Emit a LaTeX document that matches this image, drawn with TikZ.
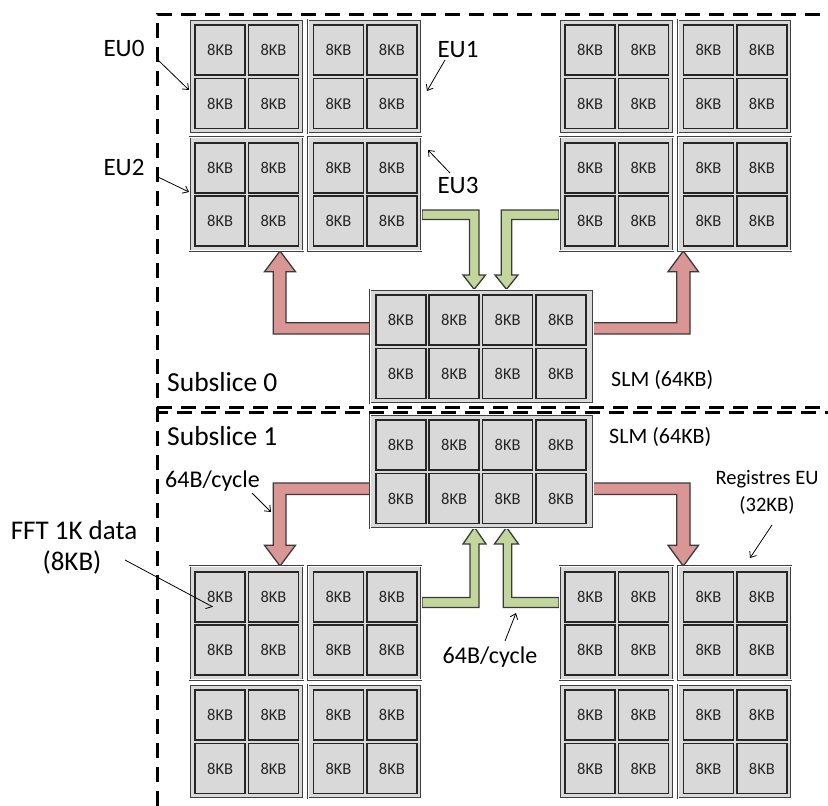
\documentclass[tikz,border=0pt]{standalone}
\usepackage{fontspec}
\setmainfont{Carlito}
\usetikzlibrary{arrows.meta}
\definecolor{cellfill}{HTML}{D9D9D9}
\definecolor{celldraw}{HTML}{262626}
\definecolor{boxdraw}{HTML}{404040}
\definecolor{redfill}{HTML}{D99694}
\definecolor{greenfill}{HTML}{C3D69B}
\definecolor{arrowdraw}{HTML}{3A3A3A}
\newcommand\membox[5]{%
  \node[outerbox, minimum width=#5pt, anchor=north west] (#1) at (#2,#3) {};
  \foreach \r in {0,1}{\foreach \c in {1,...,#4}{%
    \node[cellbox, anchor=north west] (#1-\r-\c) at ({#2+5+(\c-1)*53.4},{#3+5+\r*53.4}) {8KB};
  }}%
}
\begin{document}
\begin{tikzpicture}[x=1pt,y=-1pt,
  outerbox/.style={draw=boxdraw, line width=0.6pt, double=white, double distance=0.7pt, fill=cellfill, inner sep=0pt, minimum height=113.4pt},
  cellbox/.style={draw=celldraw, line width=1.6pt, fill=cellfill, inner sep=0pt, minimum width=50pt, minimum height=50pt, font=\fontsize{16.5}{19}\selectfont, text=celldraw},
  redarrow/.style={draw=arrowdraw, line width=1.3pt, fill=redfill, line join=miter},
  greenarrow/.style={draw=arrowdraw, line width=1.3pt, fill=greenfill, line join=miter},
  border/.style={draw=black, line width=3pt, dash pattern=on 15pt off 9pt},
  lbl/.style={inner sep=0pt, text=black},
  pointer/.style={draw=black, line width=0.8pt, -{Straight Barb[length=5pt,width=8pt]}},
]
\useasboundingbox (0,0) rectangle (828,806);
% subslice borders
\draw[border] (157,806) -- (157,14) -- (828,14);
\draw[border] (157,407) -- (828,407);
\draw[border, dash phase=4pt] (157,412) -- (828,412);
% block arrows, subslice 0
\filldraw[greenarrow] (422,210) -- (479,210) -- (479,275) -- (485.5,275) -- (474.2,289.3) -- (463,275) -- (469.5,275) -- (469.5,219.5) -- (422,219.5) -- cycle;
\filldraw[greenarrow] (559,210) -- (501.3,210) -- (501.3,275) -- (495,275) -- (506.5,289.3) -- (518,275) -- (511.7,275) -- (511.7,219.5) -- (559,219.5) -- cycle;
\filldraw[redarrow] (370,322.7) -- (286,322.7) -- (286,271.7) -- (295.5,271.7) -- (280,251) -- (264.5,271.7) -- (273.3,271.7) -- (273.3,334) -- (370,334) -- cycle;
\filldraw[redarrow] (593,322.7) -- (676.7,322.7) -- (676.7,271.7) -- (668,271.7) -- (683.3,251) -- (698.5,271.7) -- (690,271.7) -- (690,334) -- (593,334) -- cycle;
% block arrows, subslice 1
\filldraw[greenarrow] (422,607.5) -- (479,607.5) -- (479,544) -- (486,544) -- (474.5,527.3) -- (463,544) -- (470,544) -- (470,597.5) -- (422,597.5) -- cycle;
\filldraw[greenarrow] (559,607.5) -- (503.3,607.5) -- (503.3,544) -- (494.5,544) -- (506.5,527.3) -- (518.5,544) -- (511.7,544) -- (511.7,597.5) -- (559,597.5) -- cycle;
\filldraw[redarrow] (370,483) -- (273.3,483) -- (273.3,545.3) -- (264.5,545.3) -- (280,566) -- (295.5,545.3) -- (286,545.3) -- (286,494.5) -- (370,494.5) -- cycle;
\filldraw[redarrow] (593,483) -- (690,483) -- (690,545.3) -- (698.5,545.3) -- (683.3,566) -- (668,545.3) -- (676.7,545.3) -- (676.7,494.5) -- (593,494.5) -- cycle;
% EU boxes, subslice 0
\membox{eua}{189.3}{19.3}{2}{113.4}
\membox{eub}{307.7}{19.3}{2}{113.4}
\membox{euc}{189.3}{137}{2}{113.4}
\membox{eud}{307.7}{137}{2}{113.4}
\membox{eue}{559.3}{19.3}{2}{113.4}
\membox{euf}{677.7}{19.3}{2}{113.4}
\membox{eug}{559.3}{137}{2}{113.4}
\membox{euh}{677.7}{137}{2}{113.4}
\membox{slma}{370}{289.3}{4}{222.6}
% EU boxes, subslice 1
\membox{slmb}{370}{414.3}{4}{222.6}
\membox{eui}{189.3}{566}{2}{113.4}
\membox{euj}{307.7}{566}{2}{113.4}
\membox{euk}{189.3}{684.3}{2}{113.4}
\membox{eul}{307.7}{684.3}{2}{113.4}
\membox{eum}{559.3}{566}{2}{113.4}
\membox{eun}{677.7}{566}{2}{113.4}
\membox{euo}{559.3}{684.3}{2}{113.4}
\membox{eup}{677.7}{684.3}{2}{113.4}
% labels
\node[lbl, font=\fontsize{25}{30}\selectfont] (leu0) at (124,48) {EU0};
\node[lbl, font=\fontsize{25}{30}\selectfont] (leu2) at (124,167) {EU2};
\node[lbl, font=\fontsize{25}{30}\selectfont] (leu1) at (458,50) {EU1};
\node[lbl, font=\fontsize{25}{30}\selectfont] (leu3) at (458,185) {EU3};
\node[lbl, font=\fontsize{27.5}{32}\selectfont, anchor=west] (lss0) at (167,382) {Subslice 0};
\node[lbl, font=\fontsize{27.5}{32}\selectfont, anchor=west] (lss1) at (167,436) {Subslice 1};
\node[lbl, font=\fontsize{22}{26}\selectfont, anchor=west] (lslma) at (611,380) {SLM (64KB)};
\node[lbl, font=\fontsize{22}{26}\selectfont, anchor=west] (lslmb) at (609,437) {SLM (64KB)};
\node[lbl, font=\fontsize{24}{28}\selectfont, anchor=west] (lbwa) at (165,481) {64B/cycle};
\node[lbl, font=\fontsize{24}{28}\selectfont] (lbwb) at (490,657) {64B/cycle};
\node[lbl, font=\fontsize{20.5}{24}\selectfont] (lreg) at (767,479) {Registres EU};
\node[lbl, font=\fontsize{20.5}{24}\selectfont] (lregs) at (767,505) {(32KB)};
\node[lbl, font=\fontsize{27}{31}\selectfont] (lfft) at (74,530) {FFT 1K data};
\node[lbl, font=\fontsize{27}{31}\selectfont] (lffts) at (72,562) {(8KB)};
% pointer ends
\coordinate (p0s) at (158,60);   \coordinate (p0e) at (189,90);
\coordinate (p2s) at (158,177);  \coordinate (p2e) at (189,192);
\coordinate (p1s) at (445,60);   \coordinate (p1e) at (427,91);
\coordinate (p3s) at (450,173);  \coordinate (p3e) at (428,150);
\coordinate (pas) at (252,493);  \coordinate (pae) at (271,512);
\coordinate (pbs) at (505,641);  \coordinate (pbe) at (516,613);
\coordinate (prs) at (772,525);  \coordinate (pre) at (750,558);
\coordinate (pfs) at (125,560);  \coordinate (pfe) at (213,607);
\draw[pointer] (p0s) -- (p0e);
\draw[pointer] (p2s) -- (p2e);
\draw[pointer] (p1s) -- (p1e);
\draw[pointer] (p3s) -- (p3e);
\draw[pointer] (pas) -- (pae);
\draw[pointer] (pbs) -- (pbe);
\draw[pointer] (prs) -- (pre);
\draw[draw=black, line width=0.8pt, -{Straight Barb[right, length=5pt, width=10pt]}] (pfs) -- (pfe);
\end{tikzpicture}
\end{document}
